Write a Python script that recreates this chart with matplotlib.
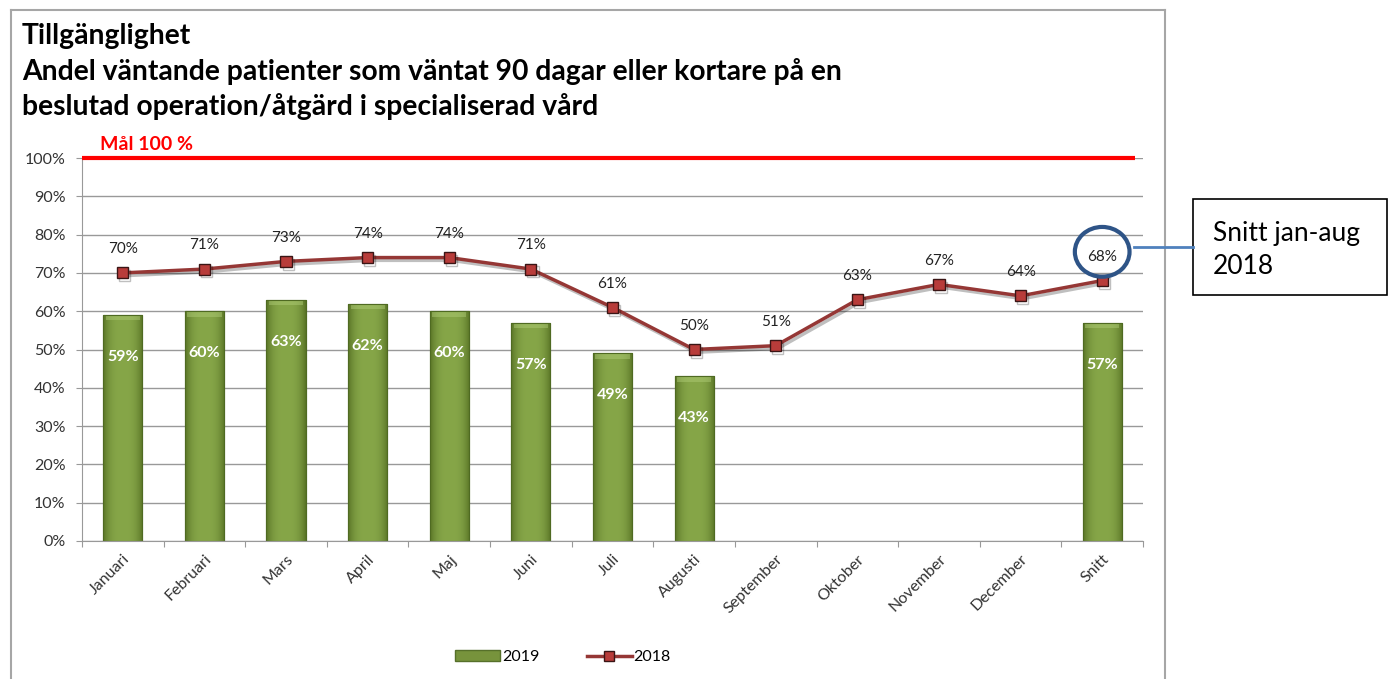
import numpy as np
import matplotlib.pyplot as plt
import matplotlib.patheffects as pe
import matplotlib.transforms as mtransforms
from matplotlib.colors import to_rgb
from matplotlib.patches import Ellipse, Rectangle, Patch
from matplotlib.lines import Line2D

plt.rcParams['font.family'] = ['Lato', 'DejaVu Sans']

months = ['Januari', 'Februari', 'Mars', 'April', 'Maj', 'Juni', 'Juli',
          'Augusti', 'September', 'Oktober', 'November', 'December', 'Snitt']
v2019 = [0.59, 0.60, 0.63, 0.62, 0.60, 0.57, 0.49, 0.43,
         np.nan, np.nan, np.nan, np.nan, 0.57]
v2018 = [0.70, 0.71, 0.73, 0.74, 0.74, 0.71, 0.61, 0.50,
         0.51, 0.63, 0.67, 0.64, 0.68]
target = 1.0

W, H = 1389, 679
fig = plt.figure(figsize=(W / 100, H / 100), dpi=100)


def fx(x):
    return x / W


def fy(y):
    return 1 - y / H


def bar_shading(nx=40, ny=200):
    # darker sides, lighter middle
    edge = np.array(to_rgb('#5A7527'))
    mid = np.array(to_rgb('#86A648'))
    u = np.linspace(-1, 1, nx)
    w = 1 - np.abs(u) ** 3
    row = edge[None, :] * (1 - w[:, None]) + mid[None, :] * w[:, None]
    return np.repeat(row[None, :, :], ny, axis=0)


ax = fig.add_axes([fx(82), fy(541), fx(1143) - fx(82), fy(158) - fy(541)])
x = np.arange(len(months))

bar_green = '#77933C'
line_red = '#953735'

bars = ax.bar(x, v2019, width=0.48, color=bar_green, edgecolor='#4F6A22',
              linewidth=0.8, zorder=2, label='2019')
shade = bar_shading()
for b in bars:
    h = b.get_height()
    if np.isnan(h):
        continue
    x0, w = b.get_x(), b.get_width()
    im = ax.imshow(shade, extent=[x0, x0 + w, 0, h], aspect='auto',
                   origin='lower', zorder=2.1, interpolation='bilinear')
    im.set_clip_path(b)
    # pale bevel along the top
    ax.fill_between([x0 + 0.03, x0 + w - 0.03], h - 0.014, h - 0.003,
                    color='#B2CF7A', alpha=0.45, lw=0, zorder=2.2)
    ax.bar(x0 + w / 2, h, width=w, fill=False, edgecolor='#4F6A22',
           linewidth=0.8, zorder=2.3)

for xi, v in zip(x, v2019):
    if not np.isnan(v):
        ax.text(xi, v - 0.11, f'{v * 100:.0f}%', ha='center', va='center',
                color='white', fontsize=11.5, fontweight='bold', zorder=4)

ax.plot(x, v2018, color=line_red, lw=2.5, marker='s', markersize=8,
        markerfacecolor='#B83C3A', markeredgecolor='#3A1515',
        markeredgewidth=1.0, zorder=3, label='2018',
        path_effects=[pe.SimpleLineShadow(offset=(1.5, -2), alpha=0.25),
                      pe.Normal()])
for xi, v in zip(x, v2018):
    ax.annotate(f'{v * 100:.0f}%', (xi, v), xytext=(0, 17),
                textcoords='offset points', ha='center', va='center',
                fontsize=11, color='#222222', zorder=4)

# target line
ax.plot([-0.5, len(months) - 0.6], [target, target], color='#FF0000', lw=3,
        solid_capstyle='butt', zorder=3, clip_on=False)
ax.text(-0.28, target + 0.035, 'Mål 100 %', color='#FF0000', fontsize=14,
        fontweight='bold', ha='left', va='center')

ax.set_xlim(-0.5, len(months) - 0.5)
ax.set_ylim(0, 1.0)
ax.set_yticks(np.arange(0, 1.01, 0.1))
ax.set_yticklabels([f'{t * 10}%' for t in range(11)])
ax.set_xticks(np.arange(-0.5, len(months), 1.0), minor=False)
ax.set_xticklabels([])
ax.set_xticks(x, minor=True)
ax.set_xticklabels(months, minor=True, rotation=45, ha='right',
                   rotation_mode='anchor')
shift = mtransforms.ScaledTranslation(8 / 100, -8 / 100, fig.dpi_scale_trans)
for lbl in ax.get_xticklabels(minor=True):
    lbl.set_transform(lbl.get_transform() + shift)
ax.tick_params(axis='x', which='minor', length=0, pad=8, labelsize=11.5,
               labelcolor='#333333')
ax.tick_params(axis='x', which='major', length=4, color='#999999')
ax.tick_params(axis='y', length=4, color='#999999', labelsize=11.5,
               labelcolor='#333333', pad=8)
ax.grid(axis='y', color='#999999', lw=1, zorder=0)
for s in ['top', 'right']:
    ax.spines[s].set_visible(False)
for s in ['left', 'bottom']:
    ax.spines[s].set_color('#999999')

# average highlight
ax.add_patch(Ellipse((12, v2018[12] + 0.075), 0.67, 0.13, fill=False,
                     edgecolor='#2E5487', lw=3, zorder=5, clip_on=False))

# titles
title_kw = dict(fontsize=20.3, fontweight='bold', va='baseline')
fig.text(fx(22), fy(44), 'Tillgänglighet', **title_kw)
fig.text(fx(22), fy(80), 'Andel väntande patienter som väntat 90 dagar eller kortare på en',
         **title_kw)
fig.text(fx(22), fy(115), 'beslutad operation/åtgärd i specialiserad vård',
         **title_kw)

# outer chart frame
frame_kw = dict(color='#A6A6A6', lw=1.5, transform=fig.transFigure)
fig.add_artist(Line2D([fx(11), fx(11)], [fy(10), 0], **frame_kw))
fig.add_artist(Line2D([fx(11), fx(1165)], [fy(10), fy(10)], **frame_kw))
fig.add_artist(Line2D([fx(1165), fx(1165)], [fy(10), 0], **frame_kw))

# callout
fig.add_artist(Line2D([fx(1134), fx(1193)], [fy(247), fy(247)],
                      color='#4F81BD', lw=2, transform=fig.transFigure))
fig.add_artist(Rectangle((fx(1193), fy(295)), fx(1387) - fx(1193),
                         fy(199) - fy(295), fill=False, edgecolor='black',
                         lw=1.2, transform=fig.transFigure))
fig.text(fx(1213), fy(250), 'Snitt jan-aug\n2018', fontsize=19,
         va='center', ha='left', linespacing=1.45)

handles = [Patch(facecolor=bar_green, edgecolor='#56702A', label='2019'),
           Line2D([], [], color=line_red, lw=2.5, marker='s', markersize=7,
                  markerfacecolor='#B83C3A', markeredgecolor='#3A1515',
                  label='2018')]
fig.legend(handles=handles, loc='center', bbox_to_anchor=(fx(563), fy(657)),
           ncol=2, frameon=False, fontsize=11.5, handlelength=2.8,
           handletextpad=0.1, columnspacing=3.0)

fig.savefig('out.png', dpi=100)
